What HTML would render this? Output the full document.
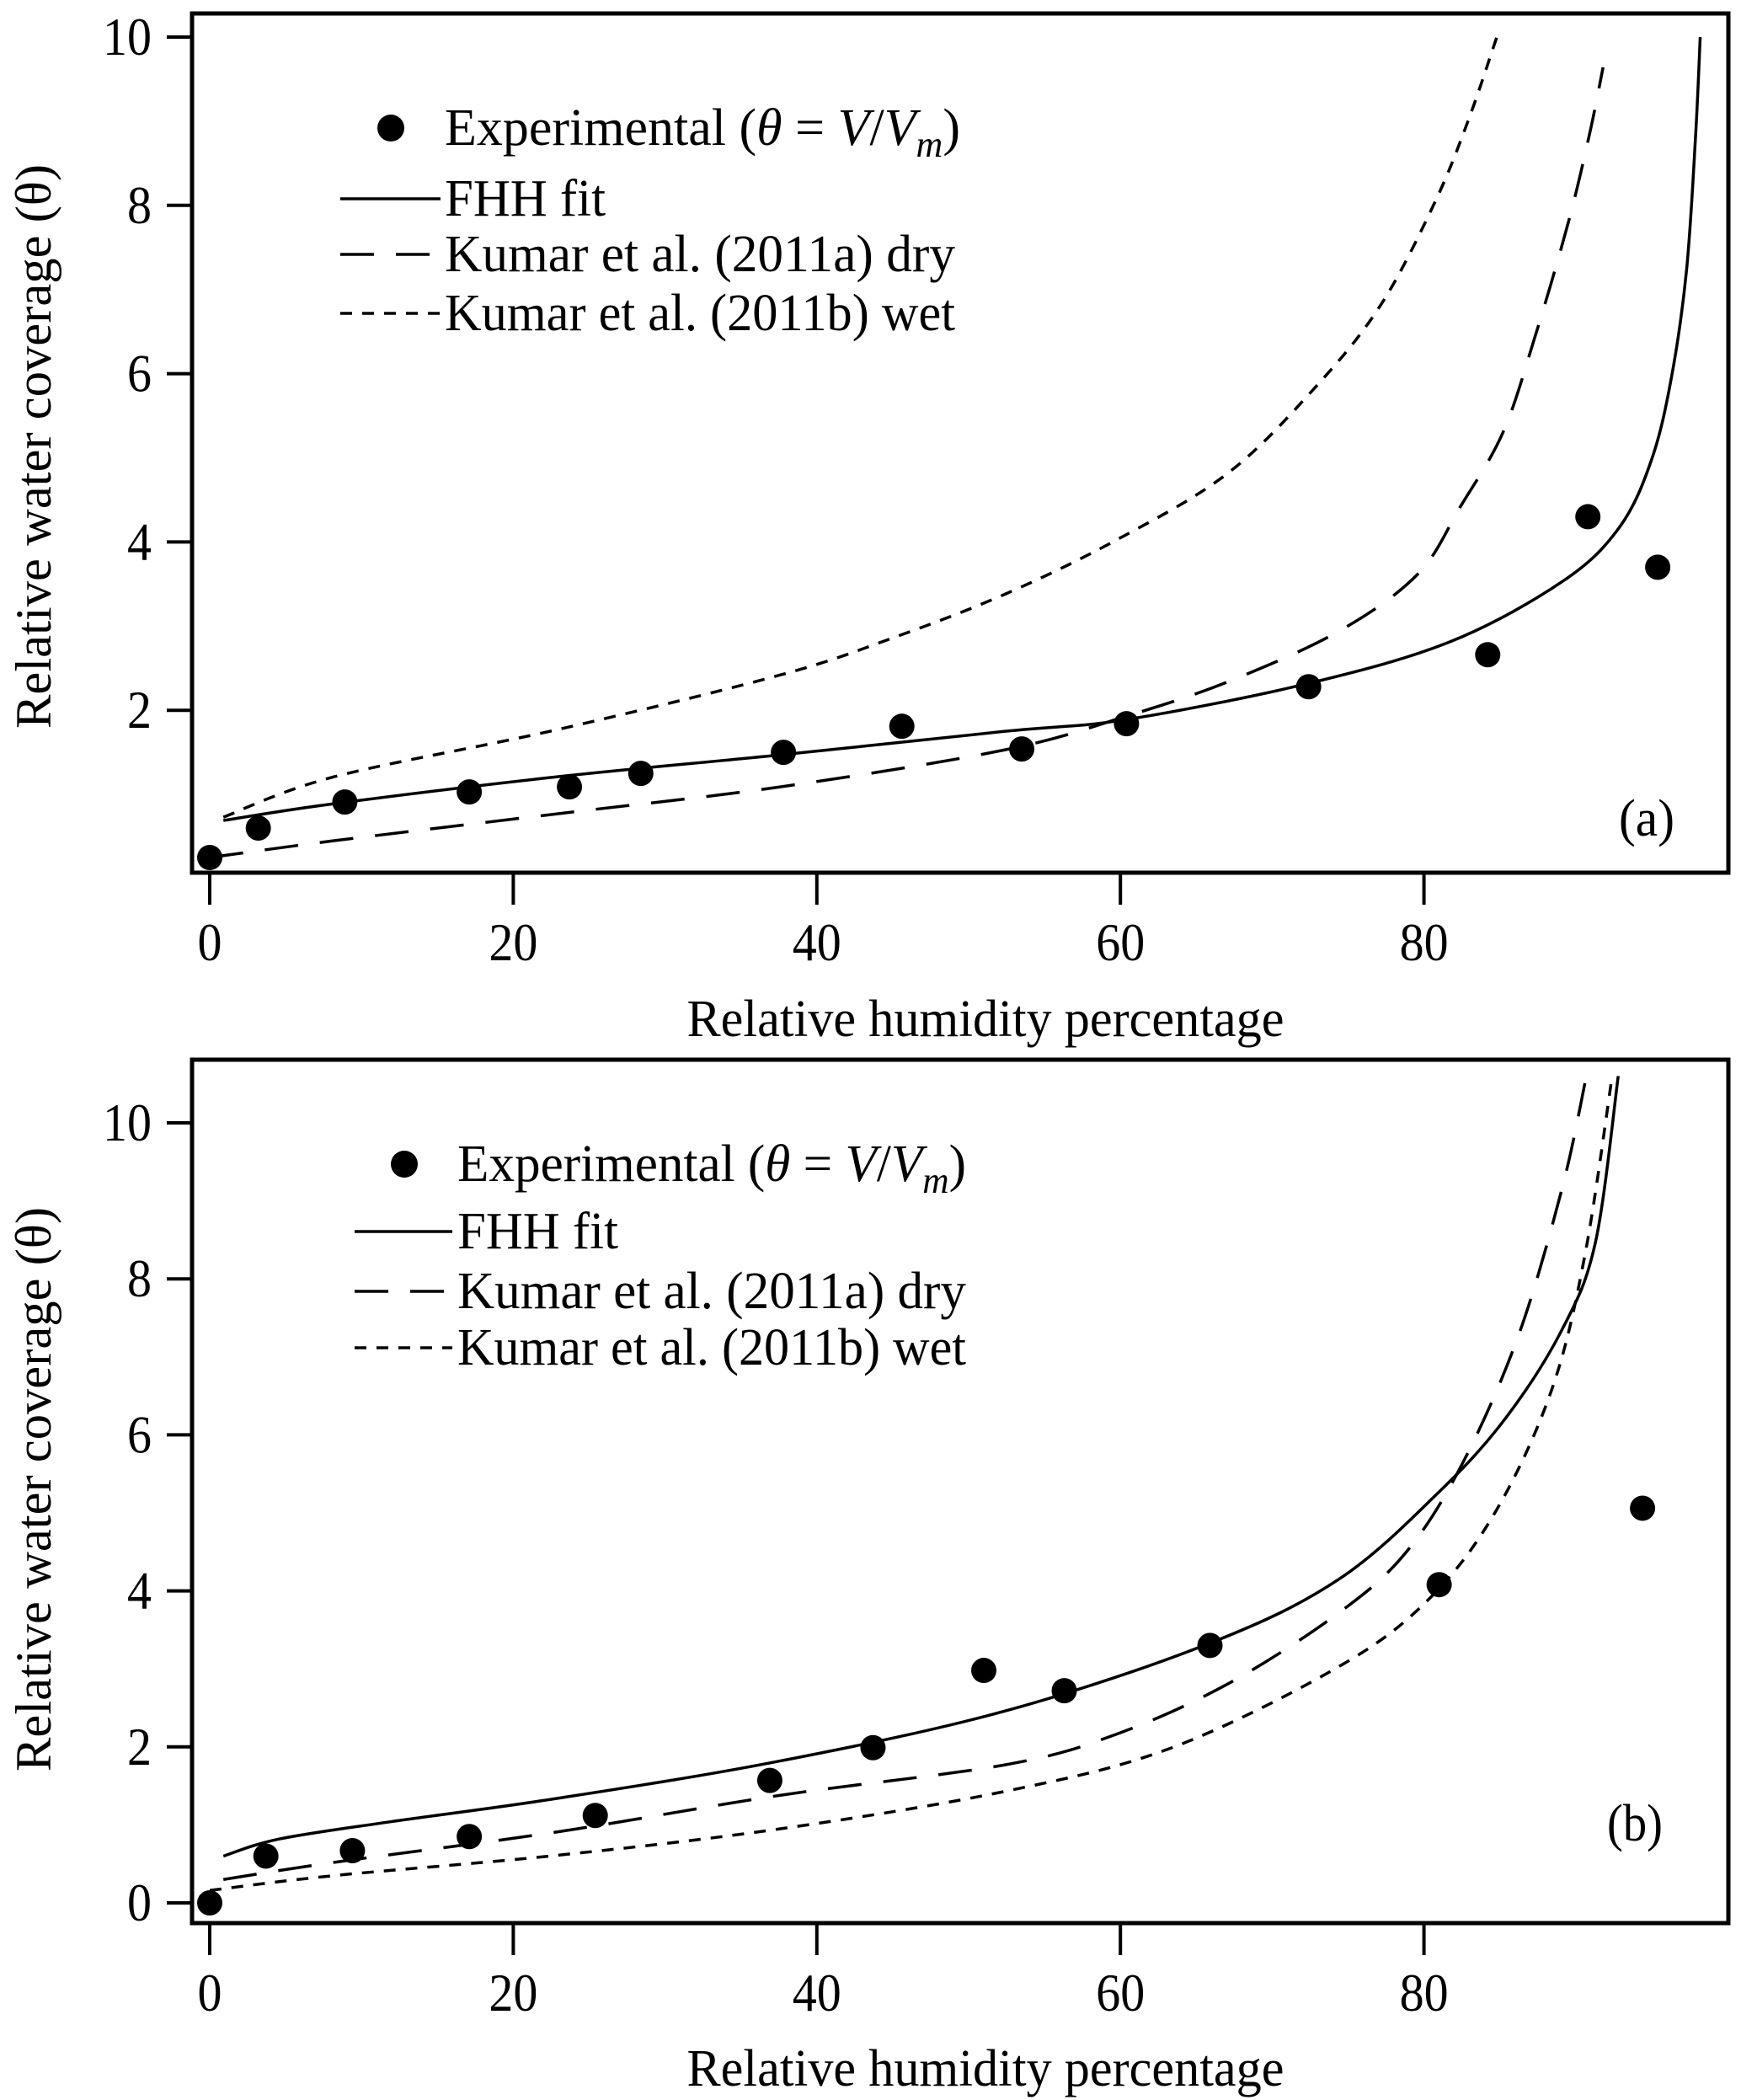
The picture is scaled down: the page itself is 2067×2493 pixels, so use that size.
<!DOCTYPE html>
<html><head><meta charset="utf-8"><style>
html,body{margin:0;padding:0;background:#fff;}
svg{display:block;}
text{font-family:"Liberation Serif",serif;fill:#000;}
</style></head><body>
<svg id="chart" width="2067" height="2493" viewBox="0 0 2067 2493" xmlns="http://www.w3.org/2000/svg"></svg>
<script>
const xTicks=[0,20,40,60,80];
const yTicksA=[2,4,6,8,10];
const yTicksB=[0,2,4,6,8,10];
const expXA=[0,3.2,8.9,17.1,23.7,28.4,37.8,45.6,53.5,60.4,72.4,84.2,90.8,95.4];
const expYA=[0.25,0.6,0.91,1.03,1.09,1.25,1.5,1.81,1.54,1.84,2.28,2.66,4.3,3.7];
const fhhXA=[0.9,8.2,22.9,37.6,52.4,60.4,72.4,81.8,89.2,92.9,95.0,96.3,97.3,97.9,98.2];
const fhhYA=[0.69,0.89,1.21,1.47,1.75,1.89,2.32,2.82,3.54,4.18,4.98,5.95,7.23,8.84,10];
const dryXA=[0,8.2,22.9,37.6,52.4,60.4,67.1,74.4,79.6,82.4,85.2,87.3,89.5,90.9,91.8];
const dryYA=[0.25,0.45,0.77,1.09,1.53,1.93,2.34,2.94,3.62,4.42,5.3,6.43,7.79,8.84,9.64];
const wetXA=[0.9,8.2,22.9,37.6,45,52.4,59.7,67.1,73,77.2,80.7,82.9,84.8];
const wetYA=[0.73,1.21,1.77,2.42,2.86,3.38,4.02,4.82,5.87,6.83,8.03,9.0,10];
const expXB=[0,3.7,9.4,17.1,25.4,36.9,43.7,51,56.3,65.9,81,94.4];
const expYB=[0,0.6,0.67,0.85,1.12,1.57,1.99,2.98,2.72,3.3,4.08,5.06];
const fhhXB=[0.9,4.6,11.9,22.9,37.6,52.4,65.9,74.4,81,85.4,89.1,91.3,92.8];
const fhhYB=[0.6,0.82,1.04,1.34,1.82,2.46,3.33,4.15,5.27,6.22,7.35,8.47,10.6];
const dryXB=[0.9,8.2,22.9,37.6,52.4,59.7,67.1,74.4,78.8,82.5,86.2,89.1,90.7];
const dryYB=[0.3,0.52,0.91,1.38,1.77,2.16,2.81,3.72,4.49,5.62,7.26,9.16,10.6];
const wetXB=[0,8.2,22.9,37.6,52.4,63.4,74.4,80.3,84.7,88.4,90.6,92.4];
const wetYB=[0.16,0.35,0.61,0.95,1.43,1.99,3.03,3.89,5.01,6.57,8.3,10.6];

const svg=document.getElementById('chart');
const NS='http://www.w3.org/2000/svg';
function mk(tag,attrs,parent){const e=document.createElementNS(NS,tag);for(const k in attrs)e.setAttribute(k,attrs[k]);(parent||svg).appendChild(e);return e;}
function smooth(pts){let d='M'+pts[0][0]+','+pts[0][1];for(let i=0;i<pts.length-1;i++){const p0=pts[Math.max(0,i-1)],p1=pts[i],p2=pts[i+1],p3=pts[Math.min(pts.length-1,i+2)];const c1=[p1[0]+(p2[0]-p0[0])/6,p1[1]+(p2[1]-p0[1])/6],c2=[p2[0]-(p3[0]-p1[0])/6,p2[1]-(p3[1]-p1[1])/6];d+=' C'+c1[0]+','+c1[1]+' '+c2[0]+','+c2[1]+' '+p2[0]+','+p2[1];}return d;}

function panel(cfg){
  const g=mk('g',{});
  
  
  const X=v=>249+18.02*v, Y=v=>cfg.y0-cfg.sy*v;
  const clipId='clip'+cfg.id;
  const cp=mk('clipPath',{id:clipId},g);mk('rect',{x:cfg.left,y:cfg.top,width:cfg.right-cfg.left,height:cfg.bottom-cfg.top},cp);
  xTicks.forEach(t=>{
    const l=mk('line',{x1:X(t),x2:X(t),y1:cfg.bottom,y2:cfg.bottom+38,stroke:'#000','stroke-width':4},g);
    
    
    const tx=mk('text',{x:X(t),y:cfg.bottom+104,'font-size':64,'text-anchor':'middle',textLength:29*String(t).length,lengthAdjust:'spacingAndGlyphs'},g);tx.textContent=t;
    
    
  });
  cfg.yTicks.forEach(t=>{
    const l=mk('line',{x1:cfg.left-30,x2:cfg.left,y1:Y(t),y2:Y(t),stroke:'#000','stroke-width':4},g);
    
    
    const tx=mk('text',{x:cfg.left-48,y:Y(t)+21,'font-size':64,'text-anchor':'end',textLength:29*String(t).length,lengthAdjust:'spacingAndGlyphs'},g);tx.textContent=t;
    
    
  });
  const xt=mk('text',{x:1170,y:cfg.xTitleY,'font-size':62,'text-anchor':'middle',textLength:709,lengthAdjust:'spacingAndGlyphs'},g);xt.textContent='Relative humidity percentage';
  
  
  const yt=mk('text',{x:0,y:0,'font-size':60,'text-anchor':'middle',textLength:670,lengthAdjust:'spacingAndGlyphs',transform:'translate(60,'+cfg.yTitleC+') rotate(-90)'},g);yt.textContent='Relative water coverage (\u03B8)';
  
  
  const cg=mk('g',{'clip-path':'url(#'+clipId+')'},g);
  const series=[[cfg.fhhX,cfg.fhhY,'none','fhh-fit-line'],[cfg.dryX,cfg.dryY,'40 26','kumar-dry-line'],[cfg.wetX,cfg.wetY,'14 12','kumar-wet-line']];
  series.forEach(s=>{
    const p=mk('path',{d:smooth(s[0].map((v,i)=>[X(v),Y(s[1][i])])),fill:'none',stroke:'#000','stroke-width':3.5,'stroke-dasharray':s[2]},cg);
    
    
  });
  cfg.expX.forEach((v,i)=>{
    const c=mk('circle',{cx:X(v),cy:Y(cfg.expY[i]),r:15,fill:'#000'},g);
    
    
  });
  const box=mk('rect',{x:cfg.left,y:cfg.top,width:cfg.right-cfg.left,height:cfg.bottom-cfg.top,fill:'none',stroke:'#000','stroke-width':5},g);
  
  
  const lg=mk('g',{},g);
  
  
  const r=cfg.legRows, tx0=cfg.legTextX;
  const m=mk('circle',{cx:cfg.legMarkX,cy:r[0],r:16,fill:'#000'},lg);
  
  
  const t0=mk('text',{x:tx0,y:r[0]+20,'font-size':62,textLength:cfg.legW[0],lengthAdjust:'spacingAndGlyphs'},lg);
  t0.innerHTML='Experimental (<tspan font-style="italic">\u03B8</tspan> = <tspan font-style="italic">V</tspan>/<tspan font-style="italic">V</tspan><tspan font-style="italic" font-size="44" dy="14">m</tspan><tspan dy="-14">)</tspan>';
  
  
  const labels=['FHH fit','Kumar et al. (2011a) dry','Kumar et al. (2011b) wet'];
  const dashes=['none','40 26','14 12'];
  const nm=['fhh','dry','wet'];
  labels.forEach((lab,i)=>{
    const l=mk('line',{x1:cfg.legLine[0],x2:cfg.legLine[1],y1:r[i+1],y2:r[i+1],stroke:'#000','stroke-width':3.5,'stroke-dasharray':dashes[i]},lg);
    
    
    const t=mk('text',{x:tx0,y:r[i+1]+20,'font-size':62,textLength:cfg.legW[i+1],lengthAdjust:'spacingAndGlyphs'},lg);t.textContent=lab;
    
    
  });
  const pl=mk('text',{x:cfg.lab[0],y:cfg.lab[1]+22,'font-size':62,'text-anchor':'middle',textLength:66,lengthAdjust:'spacingAndGlyphs'},g);pl.textContent=cfg.labText;
  
  
}

panel({id:'a',left:228,right:2052,top:16,bottom:1036,y0:1043,sy:99.9,yTicks:yTicksA,xTitleY:1230,yTitleC:530,
  expX:expXA,expY:expYA,fhhX:fhhXA,fhhY:fhhYA,dryX:dryXA,dryY:dryYA,wetX:wetXA,wetY:wetYA,
  legRows:[152,236,302,372],legTextX:528,legMarkX:464,legLine:[404,523],legW:[612,191,606,606],lab:[1955,970],labText:'(a)'});
panel({id:'b',left:228,right:2052,top:1258,bottom:2283,y0:2259,sy:92.6,yTicks:yTicksB,xTitleY:2476,yTitleC:1768,
  expX:expXB,expY:expYB,fhhX:fhhXB,fhhY:fhhYB,dryX:dryXB,dryY:dryYB,wetX:wetXB,wetY:wetYB,
  legRows:[1382,1462,1533,1600],legTextX:543,legMarkX:480,legLine:[421,537],legW:[604,191,604,604],lab:[1941,2163],labText:'(b)'});
</script>
</body></html>
